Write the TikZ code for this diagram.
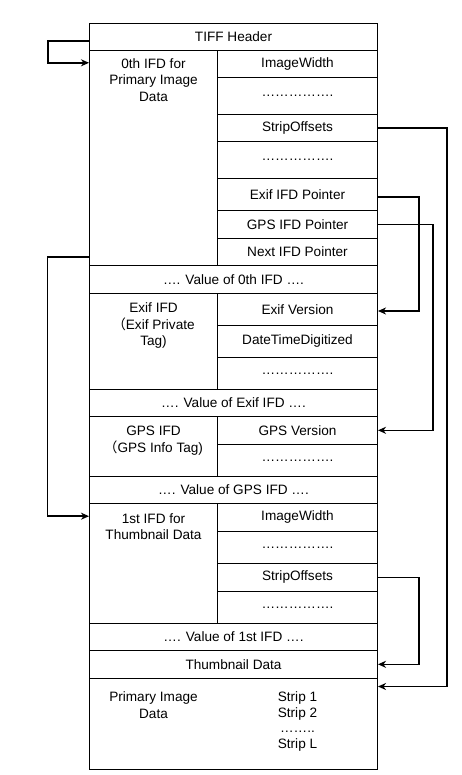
\documentclass[tikz,border=0pt]{standalone}
\usepackage{fontspec}
\setmainfont{Liberation Sans}
\newfontfamily\cjk{Noto Sans CJK SC}
\usetikzlibrary{arrows.meta}
\begin{document}
\begin{tikzpicture}[x=1pt,y=-1pt,
  every node/.style={font=\fontsize{13.6}{16.3}\selectfont},
  cell/.style={draw, line width=1pt, inner sep=0pt},
  full/.style={cell, minimum width=288},
  lcol/.style={cell, minimum width=128},
  rcol/.style={cell, minimum width=160},
  lab/.style={anchor=north, align=center, inner sep=0pt},
  arr/.style={line width=1.6pt, -{Stealth[length=8pt,width=7pt,inset=2.5pt]}},
  dots/.style={}]
\useasboundingbox (0,0) rectangle (461,775);
% header
\node[full, minimum height=27] (hdr) at (233.5,37) {TIFF Header};
% 0th IFD
\node[lcol, minimum height=215] (c0l) at (153.5,158) {};
\node[lab] (t0l) at (153.5,58.5) {0th IFD for\\Primary Image\\Data};
\node[rcol, minimum height=27] (iw0) at (297.5,64) {ImageWidth};
\node[rcol, minimum height=37] (d01) at (297.5,96) {…………….};
\node[rcol, minimum height=27] (so0) at (297.5,128) {StripOffsets};
\node[rcol, minimum height=37] (d02) at (297.5,160) {…………….};
\node[rcol, minimum height=32] (exifp) at (297.5,194.5) {Exif IFD Pointer};
\node[rcol, minimum height=28] (gpsp) at (297.5,224.5) {GPS IFD Pointer};
\node[rcol, minimum height=27] (nextp) at (297.5,252) {Next IFD Pointer};
\node[full, minimum height=27.8] (v0) at (233.5,279.4) {…. Value of 0th IFD ….};
% Exif IFD
\node[lcol, minimum height=96] (cel) at (153.5,341.3) {};
\node[lab] (tel) at (153.5,302.9) {Exif IFD\\{\cjk （}Exif Private\\Tag)};
\node[rcol, minimum height=32] (ev) at (297.5,309.3) {Exif Version};
\node[rcol, minimum height=32] (dtd) at (297.5,341.3) {DateTimeDigitized};
\node[rcol, minimum height=32] (d11) at (297.5,373.3) {…………….};
\node[full, minimum height=27] (vexif) at (233.5,402.8) {…. Value of Exif IFD ….};
% GPS IFD
\node[lcol, minimum height=60] (cgl) at (153.5,446.3) {};
\node[lab] (tgl) at (153.5,426.2) {GPS IFD\\{\cjk （}GPS Info Tag)};
\node[rcol, minimum height=28] (gv) at (297.5,430.3) {GPS Version};
\node[rcol, minimum height=32] (d21) at (297.5,460.3) {…………….};
\node[full, minimum height=27] (vgps) at (233.5,489.8) {…. Value of GPS IFD ….};
% 1st IFD
\node[lcol, minimum height=120] (c1l) at (153.5,563.3) {};
\node[lab] (t1l) at (153.5,513.5) {1st IFD for\\Thumbnail Data};
\node[rcol, minimum height=28] (iw1) at (297.5,517.3) {ImageWidth};
\node[rcol, minimum height=32] (d31) at (297.5,547.3) {…………….};
\node[rcol, minimum height=28] (so1) at (297.5,577.3) {StripOffsets};
\node[rcol, minimum height=32] (d32) at (297.5,607.3) {…………….};
\node[full, minimum height=27] (v1) at (233.5,636.8) {…. Value of 1st IFD ….};
\node[full, minimum height=28] (thumb) at (233.5,664.3) {Thumbnail Data};
% primary image data
\node[full, minimum height=90.7] (prim) at (233.5,723.65) {};
\node[lab] (tpl) at (153.5,691.9) {Primary Image\\Data};
\node[lab, font=\fontsize{13.6}{15.5}\selectfont] (tstr) at (297.5,691.9) {Strip 1\\Strip 2\\……..\\Strip L};
% connectors
\coordinate (hin) at ([yshift=-12.8pt]c0l.north west);
\coordinate (pin) at ([yshift=-8.7pt]prim.north east);
\coordinate (nin) at ([yshift=-13.4pt]c1l.north west);
\draw[arr] ([yshift=-4pt]hdr.west) -- ++(-41.2,0) |- (hin);
\draw[arr] (so0.east) -- ++(68.8,0) |- (pin);
\draw[arr] ([yshift=-2.5pt]exifp.east) -- ++(41.2,0) |- ([yshift=-1.7pt]ev.east);
\draw[arr] (gpsp.east) -- ++(55.2,0) |- (gv.east);
\draw[arr] ([yshift=8.8pt]c0l.south west) -- ++(-41.5,0) |- (nin);
\draw[arr] (so1.east) -- ++(41.2,0) |- (thumb.east);
\end{tikzpicture}
\end{document}
